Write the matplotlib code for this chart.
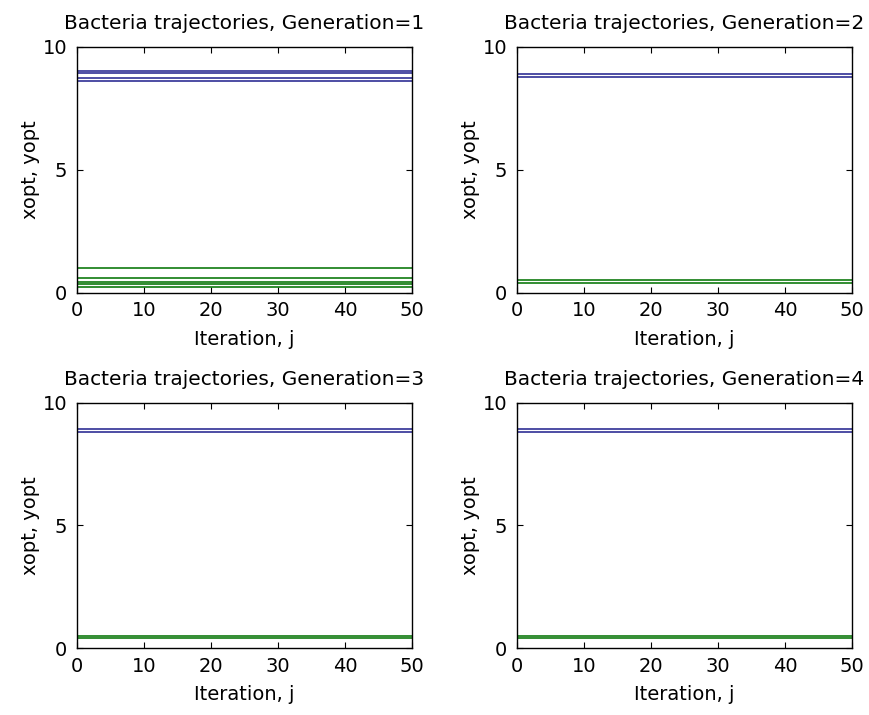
import numpy as np
import matplotlib
matplotlib.use("Agg")
import matplotlib.pyplot as plt

# iteration axis and per-bacterium positions (constant over iterations)
iterations = np.arange(0, 51)
generations = [1, 2, 3, 4]
xopt = {
    1: [9.02, 8.92, 8.74, 8.62],
    2: [8.90, 8.78],
    3: [8.94, 8.79],
    4: [8.94, 8.79],
}
yopt = {
    1: [1.02, 0.58, 0.45, 0.35, 0.22],
    2: [0.53, 0.39],
    3: [0.50, 0.40],
    4: [0.50, 0.40],
}

plt.rcParams["font.family"] = ["DejaVu Sans"]

fig = plt.figure(figsize=(8.69, 7.15), dpi=100)
positions = [
    [0.0886, 0.5906, 0.3855, 0.344],
    [0.5950, 0.5906, 0.3855, 0.344],
    [0.0886, 0.0933, 0.3855, 0.3435],
    [0.5950, 0.0933, 0.3855, 0.3435],
]

for gen, pos in zip(generations, positions):
    ax = fig.add_axes(pos)
    for v in xopt[gen]:
        ax.plot(iterations, np.full(iterations.shape, v), color="#1c1c8c", lw=1.1)
    for v in yopt[gen]:
        ax.plot(iterations, np.full(iterations.shape, v), color="#0f7a0f", lw=1.2)
    ax.set_xlim(0, 50)
    ax.set_ylim(0, 10)
    ax.set_xticks([0, 10, 20, 30, 40, 50])
    ax.set_yticks([0, 5, 10])
    ax.tick_params(direction="in", top=True, right=True, labelsize=14, length=4)
    ax.tick_params(axis="x", pad=6)
    ax.tick_params(axis="y", pad=7)
    for s in ax.spines.values():
        s.set_linewidth(1.0)
    ax.set_title(f"Bacteria trajectories, Generation={gen}", fontsize=14.5, pad=13)
    ax.set_xlabel("Iteration, j", fontsize=14, labelpad=7)
    ax.set_ylabel("xopt, yopt", fontsize=14, labelpad=2)

fig.savefig("out.png", dpi=100, facecolor="white")
